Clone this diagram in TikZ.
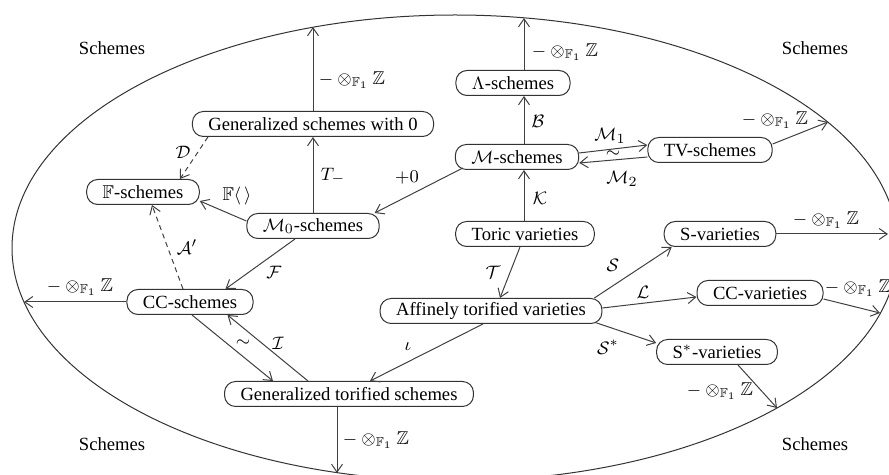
\documentclass[tikz,border=0pt]{standalone}
\usepackage{amssymb}
\usepackage{fontspec}
\setmainfont{Liberation Serif}
\usetikzlibrary{calc,arrows.meta}
\begin{document}
\begin{tikzpicture}[x=0.5pt,y=-0.5pt,
  box/.style={draw=black!80, rounded corners=5.5pt, minimum height=12.5pt, inner xsep=8pt, inner ysep=1pt, font=\fontsize{9.3}{11}\selectfont, line width=0.5pt},
  arr/.style={draw=black!75, line width=0.5pt, -{Straight Barb[length=4pt,width=5.5pt]}},
  dsh/.style={dash pattern=on 2.5pt off 2pt},
  lbl/.style={font=\fontsize{9.3}{11}\selectfont, inner sep=0pt},
  ]
\useasboundingbox (0,0) rectangle (889,475);
\draw[draw=black!80, line width=0.5pt] (455,248) ellipse [x radius=221.5pt, y radius=116.5pt];

\node[lbl] (s1) at (112,48) {Schemes};
\node[lbl] (s2) at (815,48) {Schemes};
\node[lbl] (s3) at (112,444) {Schemes};
\node[lbl] (s4) at (815,444) {Schemes};

\node[box] (gs0) at (313,124) {Generalized schemes with 0};
\node[box] (lam) at (513,83) {$\Lambda$-schemes};
\node[box] (ms) at (517,157) {$\mathcal{M}$-schemes};
\node[box] (tv) at (710,150) {TV-schemes};
\node[box] (fs) at (143,192) {$\mathbb{F}$-schemes};
\node[box] (m0) at (313,226) {$\mathcal{M}_0$-schemes};
\node[box] (tor) at (525,234) {Toric varieties};
\node[box] (sv) at (720,234) {S-varieties};
\node[box] (ccs) at (190,302) {CC-schemes};
\node[box] (aff) at (491,311) {Affinely torified varieties};
\node[box] (ccv) at (760,293) {CC-varieties};
\node[box] (ssv) at (717,352) {S$^*$-varieties};
\node[box] (gt) at (349,394) {Generalized torified schemes};

\coordinate (e1) at (313,27);
\coordinate (e2) at (524,18);
\coordinate (e3) at (828,122);
\coordinate (e4) at (888,234);
\coordinate (e5) at (880,313);
\coordinate (e6) at (777,408);
\coordinate (e7) at (337,473);
\coordinate (e8) at (24,302);
\coordinate (vx) at (524,0);

\draw[arr] (gs0.north) -- (e1) node[lbl] at (352,80) {$-\otimes_{\mathbb{F}_1}\mathbb{Z}$};
\draw[arr] (lam.north -| vx) -- (e2) node[lbl] at (565,52) {$-\otimes_{\mathbb{F}_1}\mathbb{Z}$};
\draw[arr] (ms.north -| vx) -- (lam.south -| vx) node[lbl] at (538,121) {$\mathcal{B}$};
\draw[arr] (tor.north -| vx) -- (ms.south -| vx) node[lbl] at (540,198) {$\mathcal{K}$};
\draw[arr] (m0.north) -- (gs0.south) node[lbl] at (333,176) {$T_-$};
\draw[arr] ($(m0.west)+(0,-5)$) -- ($(fs.east)+(0,9)$) node[lbl] at (237,196) {$\mathbb{F}\langle\,\rangle$};
\draw[arr,dsh] ($(gs0.south west)+(16,0)$) -- ($(fs.north)+(37,0)$) node[lbl] at (183,152) {$\mathcal{D}$};
\draw[arr,dsh] ($(ccs.north)+(-7,0)$) -- ($(fs.south)+(9,0)$) node[lbl] at (187,247) {$\mathcal{A}'$};
\draw[arr] ($(m0.south)+(-18,0)$) -- ($(ccs.north east)+(-28,0)$) node[lbl] at (274,272) {$\mathcal{F}$};
\draw[arr] (ccs.west) -- (e8) node[lbl] at (80,287) {$-\otimes_{\mathbb{F}_1}\mathbb{Z}$};
\draw[arr] ($(ccs.south)+(2,0)$) -- ($(gt.north)+(-76,0)$) node[lbl] at (243,343) {$\sim$};
\draw[arr] ($(gt.north)+(-41,0)$) -- ($(ccs.south east)+(-26,0)$) node[lbl] at (278,343) {$\mathcal{I}$};
\draw[arr] ($(aff.south)+(-8,0)$) -- ($(gt.north)+(21,0)$) node[lbl] at (408,347) {$\iota$};
\draw[arr] (gt.south -| e7) -- (e7) node[lbl] at (376,440) {$-\otimes_{\mathbb{F}_1}\mathbb{Z}$};
\draw[arr] ($(ms.south west)+(8,-2)$) -- ($(m0.north east)+(-5,0)$) node[lbl] at (407,178) {$+0$};
\draw[arr] ($(ms.east)+(0,-4)$) -- ($(tv.west)+(0,-5)$) node[lbl] at (610,136) {$\mathcal{M}_1$} node[lbl] at (613,154) {$\sim$};
\draw[arr] ($(tv.west)+(0,7)$) -- ($(ms.east)+(0,6)$) node[lbl] at (622,179) {$\mathcal{M}_2$};
\draw[arr] ($(tv.east)+(0,-6)$) -- (e3) node[lbl] at (775,120) {$-\otimes_{\mathbb{F}_1}\mathbb{Z}$};
\draw[arr] ($(tor.south)+(-5,0)$) -- ($(aff.north)+(9,0)$) node[lbl] at (493,272) {$\mathcal{T}$};
\draw[arr] ($(aff.north east)+(-8,0)$) -- ($(sv.south west)+(8,0)$) node[lbl] at (613,265) {$\mathcal{S}$};
\draw[arr] ($(aff.east)+(0,-3)$) -- ($(ccv.west)+(0,4)$) node[lbl] at (643,292) {$\mathcal{L}$};
\draw[arr] ($(aff.south east)+(-7,-1.5)$) -- ($(ssv.west)+(0,-9)$) node[lbl] at (608,347) {$\mathcal{S}^*$};
\draw[arr] ($(ssv.south)+(21,0)$) -- (e6) node[lbl] at (720,391) {$-\otimes_{\mathbb{F}_1}\mathbb{Z}$};
\draw[arr] ($(ccv.east)+(0,6)$) -- (e5) node[lbl] at (858,288) {$-\otimes_{\mathbb{F}_1}\mathbb{Z}$};
\draw[arr] (sv.east) -- (e4) node[lbl] at (826,220) {$-\otimes_{\mathbb{F}_1}\mathbb{Z}$};
\end{tikzpicture}
\end{document}
